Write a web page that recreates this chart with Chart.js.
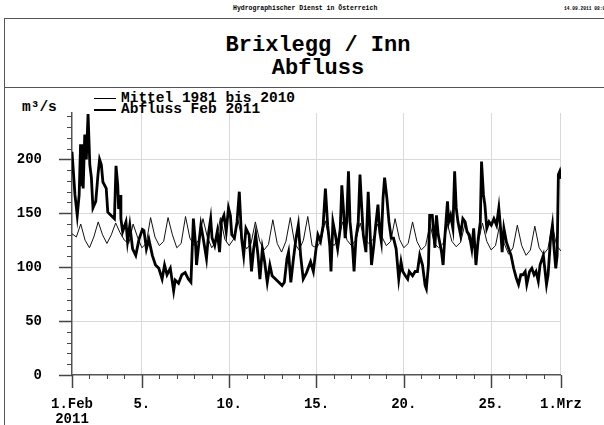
<!DOCTYPE html>
<html>
<head>
<meta charset="utf-8">
<script src="https://cdn.jsdelivr.net/npm/chart.js@4.4.1/dist/chart.umd.min.js"></script>
<style>
  body { margin: 0; width: 604px; height: 425px; overflow: hidden; background: #fff;
         position: relative; font-family: 'Liberation Mono', 'DejaVu Sans Mono', monospace;
         font-weight: bold; color: #000; }
  .abs { position: absolute; white-space: nowrap; }
  .small { font-size: 6.5px; top: 5px; }
  .frameV { left: 4px; top: 18px; height: 410px; border-left: 1.5px solid #555; }
  .frameH { left: 4px; width: 600px; border-top: 1.5px solid #555; }
  #title { left: 118px; width: 400px; top: 34px; text-align: center; font-size: 22px; line-height: 23px; }
  .leg { font-size: 14.5px; line-height: 14px; left: 121px; }
  .legline { left: 94px; width: 22px; border-top: 1px solid #000; }
  #unit { left: 22px; top: 99px; font-size: 14.5px; }
  #chart { position: absolute; left: 0; top: 0; }
</style>
</head>
<body>
<div class="abs small" style="left:233px">Hydrographischer Dienst in Österreich</div>
<div class="abs small" style="left:564px; font-size:4.6px; top:6px">14.09.2011 08:00</div>
<div class="abs frameV"></div>
<div class="abs frameH" style="top:18px"></div>
<div class="abs frameH" style="top:87px"></div>
<div class="abs" id="title">Brixlegg / Inn<br>Abfluss</div>
<div class="abs legline" style="top:98px"></div>
<div class="abs legline" style="top:109px; border-top-width:2.5px"></div>
<div class="abs leg" style="top:91px">Mittel 1981 bis 2010</div>
<div class="abs leg" style="top:102px">Abfluss Feb 2011</div>
<div class="abs" id="unit">m³/s</div>
<canvas id="chart" width="604" height="425"></canvas>
<script>
// x axis is in days since 1 Feb 2011 00:00
const xTickDays = [0, 4, 9, 14, 19, 24, 28];
const xTickLabels = [['1.Feb', '2011'], '5.', '10.', '15.', '20.', '25.', '1.Mrz'];
const yTickValues = [0, 50, 100, 150, 200];

// Mittel 1981 bis 2010, every 6 hours
const meanValues = [
  131, 128, 140, 125,  118, 128, 142, 130,  122, 130, 141, 132,  125, 122, 140, 128,
  118, 122, 146, 128,  120, 124, 146, 130,  118, 122, 147, 127,  120, 125, 145, 128,
  118, 124, 146, 126,  120, 126, 144, 125,  117, 122, 142, 124,  116, 121, 144, 122,
  114, 124, 146, 122,  116, 125, 147, 120,  118, 124, 143, 125,  120, 126, 142, 125,
  120, 125, 141, 126,  122, 126, 140, 128,  120, 124, 145, 126,  118, 122, 142, 124,
  116, 120, 140, 122,  118, 122, 140, 124,  119, 123, 140, 125,  118, 122, 141, 124,
  116, 120, 140, 122,  112, 118, 139, 120,  111, 116, 138, 118,  112, 117, 139, 120,
  115
];

// Abfluss Feb 2011 (day, value)
const flowDays = [
  0.00, 0.17, 0.30, 0.41, 0.49, 0.53, 0.60, 0.64, 0.73, 0.82, 0.92, 1.02, 1.11, 1.20, 1.36, 1.49,
  1.58, 1.68, 1.77, 1.96, 2.05, 2.24, 2.43, 2.52, 2.62, 2.67, 2.77, 2.80, 2.90, 3.09, 3.18, 3.31,
  3.47, 3.65, 3.84, 4.03, 4.12, 4.26, 4.40, 4.60, 4.78, 4.97, 5.16, 5.30, 5.44, 5.63, 5.82, 5.91,
  6.10, 6.29, 6.48, 6.66, 6.81, 6.95, 7.08, 7.13, 7.23, 7.38, 7.51, 7.70, 7.83, 7.94, 8.02, 8.17,
  8.32, 8.45, 8.55, 8.70, 8.83, 8.96, 9.07, 9.15, 9.30, 9.45, 9.58, 9.71, 9.83, 9.96, 10.14, 10.28,
  10.40, 10.52, 10.65, 10.76, 10.90, 11.03, 11.18, 11.33, 11.46, 11.65, 11.84, 12.03, 12.16, 12.31, 12.40, 12.53,
  12.68, 12.83, 12.96, 13.09, 13.24, 13.43, 13.66, 13.82, 13.95, 14.08, 14.23, 14.38, 14.51, 14.64, 14.76, 14.83,
  14.94, 15.08, 15.21, 15.36, 15.45, 15.55, 15.64, 15.73, 15.83, 15.92, 16.07, 16.15, 16.26, 16.39, 16.49, 16.58,
  16.68, 16.83, 16.96, 17.05, 17.15, 17.28, 17.39, 17.52, 17.62, 17.71, 17.81, 17.90, 18.03, 18.15, 18.28, 18.41,
  18.56, 18.71, 18.84, 18.94, 19.09, 19.22, 19.31, 19.50, 19.65, 19.78, 19.91, 20.07, 20.22, 20.29, 20.41, 20.48,
  20.63, 20.78, 20.87, 20.97, 21.16, 21.25, 21.34, 21.50, 21.57, 21.68, 21.81, 21.91, 22.00, 22.10, 22.25, 22.38,
  22.51, 22.62, 22.75, 22.89, 23.00, 23.13, 23.26, 23.38, 23.45, 23.56, 23.64, 23.75, 23.88, 24.01, 24.16, 24.31,
  24.44, 24.54, 24.63, 24.73, 24.88, 25.01, 25.14, 25.29, 25.44, 25.57, 25.70, 25.82, 25.95, 26.04, 26.20, 26.33,
  26.46, 26.57, 26.70, 26.80, 26.99, 27.17, 27.26, 27.40, 27.51, 27.59, 27.70, 27.78, 27.85, 27.93, 28.00
];
const flowValues = [
  207, 167, 148, 167, 214, 175, 214, 173, 223, 200, 242, 195, 183, 155, 161, 186,
  200, 195, 179, 173, 151, 148, 145, 194, 176, 154, 167, 145, 133, 142, 124, 139,
  117, 111, 126, 135, 134, 117, 126, 111, 102, 99, 89, 102, 93, 99, 78, 88,
  85, 93, 95, 89, 86, 145, 120, 102, 117, 139, 127, 108, 133, 145, 127, 120,
  133, 114, 142, 148, 133, 155, 148, 130, 127, 142, 170, 127, 111, 136, 130, 96,
  117, 130, 111, 89, 117, 105, 86, 102, 92, 89, 86, 83, 86, 108, 114, 86,
  108, 127, 139, 111, 89, 95, 105, 96, 114, 130, 124, 139, 173, 139, 120, 96,
  142, 130, 117, 136, 176, 152, 127, 142, 189, 142, 117, 96, 127, 142, 186, 158,
  130, 114, 170, 139, 102, 120, 139, 158, 133, 124, 164, 183, 164, 142, 127, 127,
  117, 89, 105, 96, 92, 89, 96, 92, 96, 96, 111, 102, 83, 80, 102, 148,
  148, 118, 148, 130, 114, 102, 126, 161, 142, 148, 136, 189, 155, 142, 130, 145,
  142, 133, 130, 117, 136, 102, 126, 142, 198, 167, 158, 136, 142, 139, 145, 139,
  155, 136, 114, 136, 123, 117, 111, 99, 90, 84, 93, 93, 96, 84, 96, 99,
  93, 96, 87, 102, 111, 84, 93, 126, 139, 120, 99, 111, 186, 189, 182
];

const meanPoints = meanValues.map((v, i) => ({ x: i / 4, y: v }));
const flowPoints = flowValues.map((v, i) => ({ x: flowDays[i], y: v }));

// major/minor tick marks drawn outside the axes
const tickMarks = {
  id: 'tickMarks',
  afterDraw(chart) {
    const ctx = chart.ctx;
    const xs = chart.scales.x, ys = chart.scales.y;
    const area = chart.chartArea;
    ctx.save();
    ctx.strokeStyle = '#444';
    for (let d = 0; d <= 28; d++) {
      const major = xTickDays.includes(d);
      const px = Math.round(xs.getPixelForValue(d)) + 0.5;
      ctx.lineWidth = major ? 1.5 : 1;
      ctx.beginPath();
      ctx.moveTo(px, area.bottom);
      ctx.lineTo(px, area.bottom + (major ? 13 : 4));
      ctx.stroke();
    }
    for (let v = 0; v <= 240; v += 10) {
      const major = v % 50 === 0;
      const py = Math.round(ys.getPixelForValue(v)) + 0.5;
      ctx.lineWidth = major ? 1.5 : 1;
      ctx.beginPath();
      ctx.moveTo(area.left - (major ? 13 : 5), py);
      ctx.lineTo(area.left, py);
      ctx.stroke();
    }
    ctx.restore();
  }
};

const tickFont = { family: "'Liberation Mono', monospace", size: 14, weight: 'bold', lineHeight: 1.05 };

new Chart(document.getElementById('chart'), {
  type: 'line',
  data: {
    datasets: [{
      label: 'Abfluss Feb 2011',
      data: flowPoints,
      borderColor: '#000',
      borderWidth: 2.8,
      pointRadius: 0,
      tension: 0,
      order: 0
    }, {
      label: 'Mittel 1981 bis 2010',
      data: meanPoints,
      borderColor: '#111',
      borderWidth: 1,
      pointRadius: 0,
      tension: 0,
      order: 1
    }]
  },
  options: {
    responsive: false,
    animation: false,
    devicePixelRatio: 1,
    layout: { padding: { top: 113, right: 36, left: 0, bottom: 0 }, autoPadding: false },
    plugins: { legend: { display: false }, tooltip: { enabled: false } },
    scales: {
      x: {
        type: 'linear',
        min: 0,
        max: 28,
        afterFit: s => { s.height = 50; },
        afterBuildTicks: s => { s.ticks = xTickDays.map(v => ({ value: v })); },
        ticks: {
          color: '#000',
          font: tickFont,
          padding: 22,
          maxRotation: 0,
          autoSkip: false,
          callback: (v, i) => xTickLabels[i]
        },
        grid: {
          drawTicks: false,
          color: c => (c.tick && c.tick.value === 0) ? 'rgba(0,0,0,0)' : '#d9d9d9'
        },
        border: { display: true, color: '#555', width: 1.5 }
      },
      y: {
        min: 0,
        max: 243,
        afterFit: s => { s.width = 72; },
        afterBuildTicks: s => { s.ticks = yTickValues.map(v => ({ value: v })); },
        ticks: { color: '#000', font: tickFont, padding: 30 },
        grid: {
          drawTicks: false,
          color: c => (c.tick && c.tick.value === 0) ? 'rgba(0,0,0,0)' : '#d9d9d9'
        },
        border: { display: true, color: '#555', width: 1.5 }
      }
    }
  },
  plugins: [tickMarks]
});
</script>
</body>
</html>
